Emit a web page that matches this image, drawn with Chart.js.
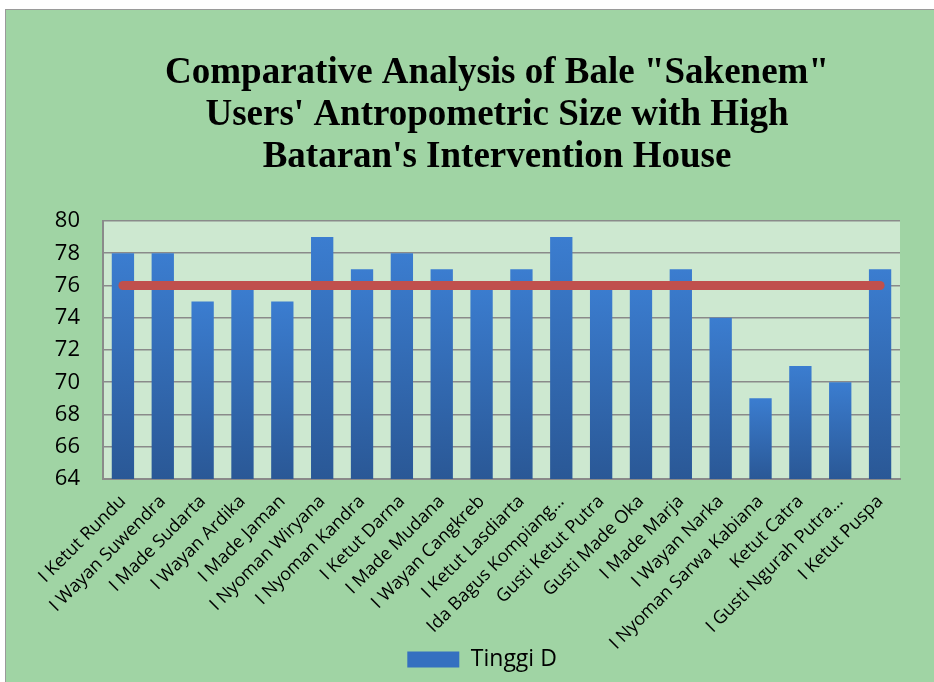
<!DOCTYPE html>
<html>
<head>
<meta charset="utf-8">
<script src="https://cdn.jsdelivr.net/npm/chart.js@4.4.1/dist/chart.umd.min.js"></script>
<style>
  html, body { margin: 0; padding: 0; background: #ffffff; width: 934px; height: 682px; overflow: hidden; }
  #frame { position: absolute; left: 5px; top: 9px; width: 929px; height: 673px; background: #a0d4a4;
           border-left: 1px solid #9a9a9a; border-top: 1px solid #9a9a9a; overflow: hidden; }
  #wrap { position: absolute; left: 0; top: 0; width: 982px; height: 672px; }
</style>
</head>
<body>
<div id="frame"><div id="wrap"><canvas id="c" width="982" height="672"></canvas></div></div>
<script>
const titleLines = ['Comparative Analysis of Bale "Sakenem"', "Users' Antropometric Size with High", "Bataran's Intervention House"];
const categories = ["I Ketut Rundu", "I Wayan Suwendra", "I Made Sudarta", "I Wayan Ardika", "I Made Jaman",
  "I Nyoman Wiryana", "I Nyoman Kandra", "I Ketut Darna", "I Made Mudana", "I Wayan Cangkreb",
  "I Ketut Lasdiarta", "Ida Bagus Kompiang…", "Gusti Ketut Putra", "Gusti Made Oka", "I Made Marja",
  "I Wayan Narka", "I Nyoman Sarwa Kabiana", "Ketut Catra", "I Gusti Ngurah Putra…", "I Ketut Puspa"];
const tinggiD = [78, 78, 75, 76, 75, 79, 77, 78, 77, 76, 77, 79, 76, 76, 77, 74, 69, 71, 70, 77];
const referenceLine = [76, 76, 76, 76, 76, 76, 76, 76, 76, 76, 76, 76, 76, 76, 76, 76, 76, 76, 76, 76];
const seriesName = "Tinggi D";
const yTicks = [64, 66, 68, 70, 72, 74, 76, 78, 80];

const plotBg = {
  id: 'plotBg',
  beforeDraw(chart) {
    const {ctx, chartArea: a} = chart;
    ctx.save();
    ctx.fillStyle = '#cde8d0';
    ctx.fillRect(a.left, a.top, a.right - a.left, a.bottom - a.top);
    ctx.restore();
  }
};

function barFill(ctx) {
  const chart = ctx.chart;
  const a = chart.chartArea;
  if (!a || ctx.type !== 'data') return '#3a7bcd';
  const top = chart.scales.y.getPixelForValue(ctx.raw);
  const g = chart.ctx.createLinearGradient(0, top, 0, a.bottom);
  g.addColorStop(0, '#3b7dd0');
  g.addColorStop(1, '#2a5896');
  return g;
}

new Chart(document.getElementById('c'), {
  type: 'bar',
  data: {
    labels: categories,
    datasets: [
      {
        type: 'line', label: 'ref', data: referenceLine, order: 0,
        borderColor: '#c0504d', borderWidth: 9, borderCapStyle: 'round',
        pointRadius: 0, fill: false
      },
      {
        type: 'bar', label: seriesName, data: tinggiD, order: 1,
        backgroundColor: barFill, borderWidth: 0,
        barPercentage: 0.56, categoryPercentage: 1.0
      }
    ]
  },
  options: {
    responsive: false,
    animation: false,
    layout: { padding: { left: 88, right: 88, top: 0, bottom: 1 } },
    plugins: {
      title: {
        display: true, text: titleLines, color: '#000',
        font: { family: '"Liberation Serif", "Times New Roman", serif', size: 37, weight: 'bold', lineHeight: 1.135 },
        padding: { top: 42, bottom: 43 }
      },
      legend: {
        position: 'bottom',
        labels: {
          generateLabels: (chart) => {
            const items = Chart.defaults.plugins.legend.labels.generateLabels(chart);
            return items.filter(it => it.text === seriesName).map(it => Object.assign(it, { text: it.text + '     ', fillStyle: '#3570c0' }));
          },
          boxWidth: 52, boxHeight: 16, color: '#000',
          font: { family: '"Open Sans", sans-serif', size: 23 }
        }
      },
      tooltip: { enabled: false }
    },
    scales: {
      x: {
        afterFit: (s) => { s.height = 159; s._computeLabelArea = () => undefined; },
        grid: { display: false },
        border: { display: true, color: '#8a8a8a', width: 2 },
        ticks: {
          minRotation: 45, maxRotation: 45, autoSkip: false, color: '#000', padding: 4,
          font: { family: '"Open Sans", sans-serif', size: 18 }
        }
      },
      y: {
        min: 64, max: 80,
        afterFit: (s) => { s.width = 9; s._computeLabelArea = () => undefined; },
        afterBuildTicks: (s) => { s.ticks = yTicks.map(v => ({ value: v })); },
        grid: { color: '#8a8a8a', lineWidth: 1.5, drawTicks: false },
        border: { display: true, color: '#8a8a8a', width: 2 },
        ticks: {
          color: '#000', padding: 23,
          font: { family: '"Open Sans", sans-serif', size: 22 }
        }
      }
    }
  },
  plugins: [plotBg]
});
</script>
</body>
</html>
